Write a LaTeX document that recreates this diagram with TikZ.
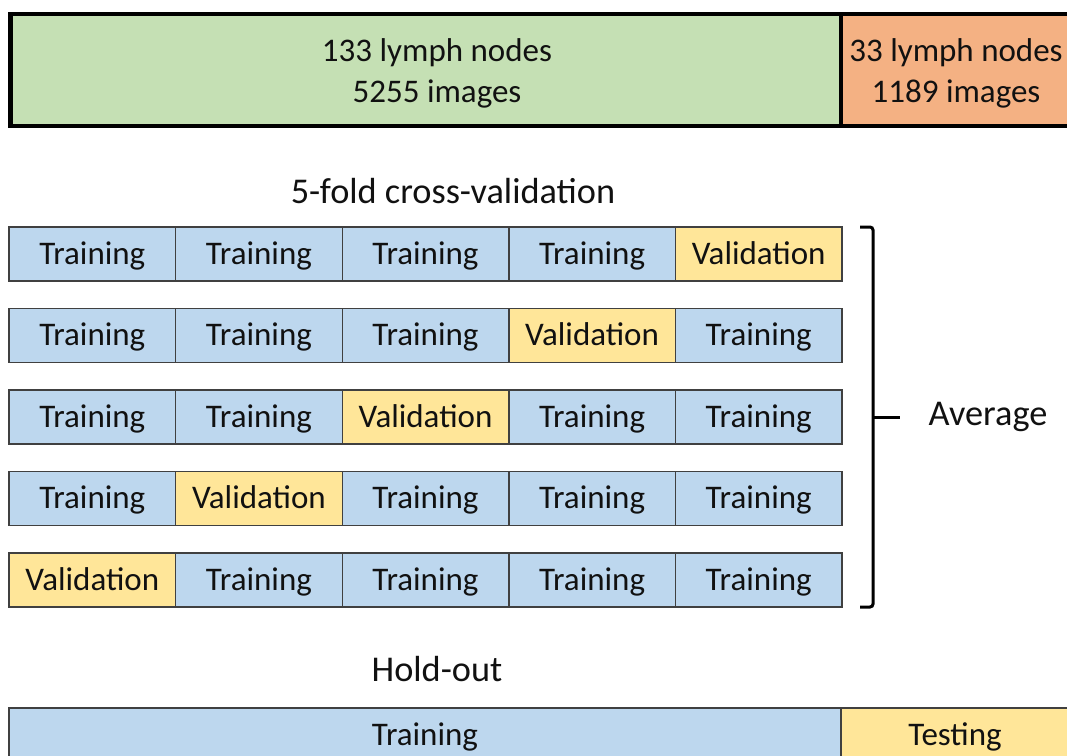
\documentclass[tikz,border=0pt]{standalone}
\usepackage{fontspec}
\setmainfont{Carlito}
\definecolor{cgreen}{HTML}{C5E0B4}
\definecolor{corange}{HTML}{F4B183}
\definecolor{cblue}{HTML}{BDD7EE}
\definecolor{cyellow}{HTML}{FFE699}
\definecolor{cellline}{HTML}{404040}
\definecolor{textc}{HTML}{111111}
\begin{document}
\begin{tikzpicture}[x=1pt,y=-1pt,
  bigbox/.style={draw=black, line width=4.5pt, inner sep=0pt, outer sep=0pt},
  bigtext/.style={font=\fontsize{33}{41}\selectfont, text=textc, inner sep=0pt, align=center},
  cell/.style={draw=cellline, line width=1.4pt, minimum width=166.6pt, minimum height=54pt, inner sep=0pt, outer sep=0pt, font=\fontsize{33}{40}\selectfont, text=textc, text height=27pt, text depth=7pt},
  train/.style={cell, fill=cblue},
  valid/.style={cell, fill=cyellow},
  heading/.style={font=\fontsize{36.3}{43}\selectfont, text=textc, inner sep=0pt},
  bracket/.style={draw=black, line width=3pt, rounded corners=3pt}]
\useasboundingbox (0,0) rectangle (1067,755);
\clip (0,0) rectangle (1067,755);

% top bar
\node[bigbox, fill=cgreen, minimum width=830.5pt, minimum height=112pt] (gbox) at (425.75,70) {};
\node[bigbox, fill=corange, minimum width=236pt, minimum height=112pt] (obox) at (959,70) {};
\node[bigtext] (gtext) at (437,73) {133 lymph nodes\\5255 images};
\node[bigtext] (otext) at (956,73) {33 lymph nodes\\1189 images};

% cross-validation title
\node[heading] (cvtitle) at (453,191) {5-fold cross-validation};

% folds
\foreach \r/\y in {1/254, 2/335.5, 3/417, 4/498.5, 5/580} {
  \pgfmathtruncatemacro{\v}{6-\r}
  \foreach \c in {1,...,5} {
    \pgfmathsetmacro{\x}{9+166.6*(\c-0.5)}
    \ifnum\c=\v
      \node[valid] (f\r-\c) at (\x,\y) {Validation};
    \else
      \node[train] (f\r-\c) at (\x,\y) {Training};
    \fi
  }
}

% bracket
\coordinate (bt) at (860,227);
\coordinate (bb) at (860,607);
\coordinate (bm) at (873,417);
\coordinate (btip) at (900,417);
\draw[bracket] (bt) -- (873,227) -- (873,607) -- (bb);
\draw[bracket, rounded corners=0pt] (bm) -- (btip);
\node[heading] (avg) at (988,417) {Average};

% hold-out
\node[heading] (hotitle) at (437,669) {Hold-out};
\node[train, minimum width=832pt] (hotrain) at (425,735) {Training};
\node[valid, minimum width=228pt] (hotest) at (955,735) {Testing};
\end{tikzpicture}
\end{document}
